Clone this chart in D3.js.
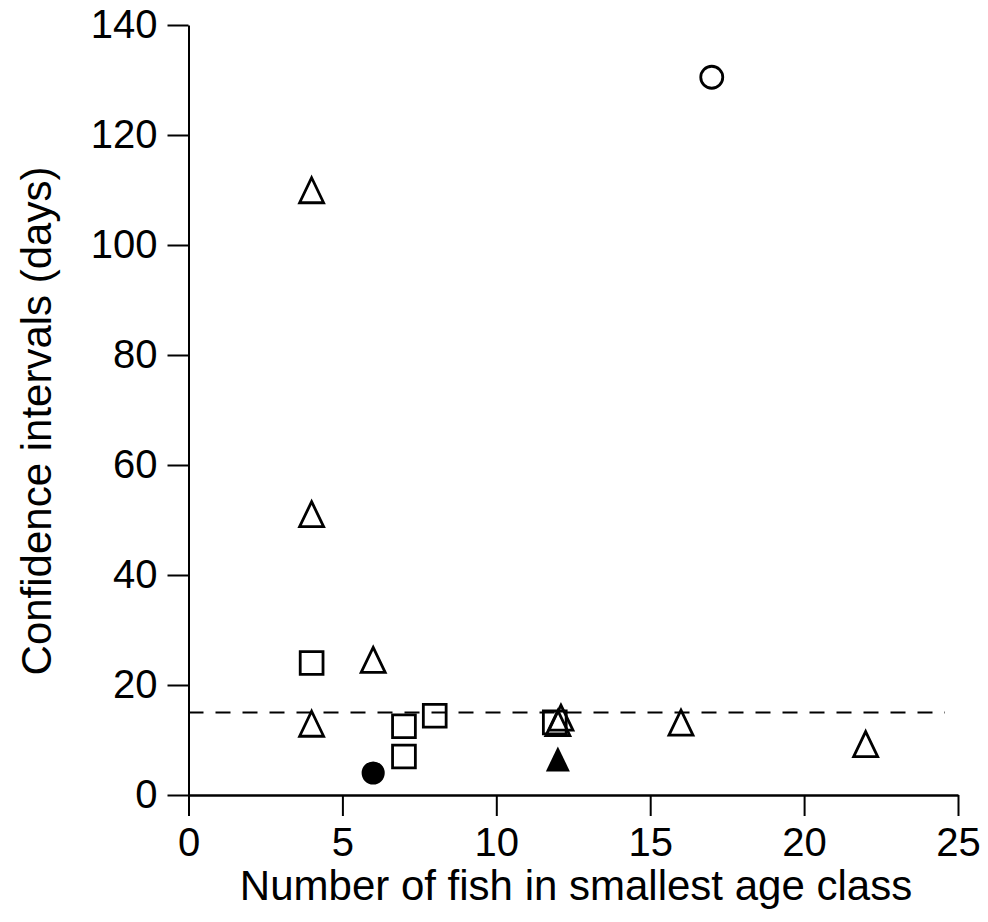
<!DOCTYPE html>
<html>
<head>
<meta charset="utf-8">
<script src="https://cdn.jsdelivr.net/npm/d3@7"></script>
<style>
  body { margin: 0; background: #fff; }
  text { font-family: "Liberation Sans", Arial, sans-serif; fill: #000; }
</style>
</head>
<body>
<div id="scatter"></div>
<script>
// values
var openTriangles = [
  {x: 4, y: 109.2}, {x: 4, y: 50.3}, {x: 4, y: 12.2}, {x: 6, y: 23.8},
  {x: 12.1, y: 13.3}, {x: 12, y: 12.3}, {x: 16, y: 12.4}, {x: 22, y: 8.5}
];
var openSquares = [
  {x: 4, y: 24}, {x: 7, y: 12.5}, {x: 7, y: 7}, {x: 8, y: 14.4}, {x: 11.9, y: 13.2}
];
var openCircles = [{x: 17, y: 130.5}];
var filledCircles = [{x: 6, y: 4}];
var filledTriangles = [{x: 12, y: 5.8}];
var refLine = 15;
var xTicks = [0, 5, 10, 15, 20, 25];
var yTicks = [0, 20, 40, 60, 80, 100, 120, 140];
var xTitle = "Number of fish in smallest age class";
var yTitle = "Confidence intervals (days)";

var svgWidth = 988, svgHeight = 922;
var margin = {top: 25, right: 30, bottom: 127, left: 188.5};

var svg = d3.select("#scatter").append("svg")
  .attr("width", svgWidth)
  .attr("height", svgHeight);

var scaleX = d3.scaleLinear().domain([0, 25]).range([margin.left, 958]);
var scaleY = d3.scaleLinear().domain([0, 140]).range([795, margin.top]);

// x axis
var xAxis = d3.axisBottom(scaleX).tickValues(xTicks).tickSize(21).tickPadding(10).tickSizeOuter(0);
var gx = svg.append("g")
  .attr("transform", "translate(0,795)")
  .call(xAxis);
gx.select(".domain").attr("stroke-width", 2.5);
gx.selectAll(".tick line").attr("stroke-width", 2);
gx.selectAll(".tick text").attr("font-size", 40).attr("dy", "0.76em");

// y axis
var yAxis = d3.axisLeft(scaleY).tickValues(yTicks).tickSize(21).tickPadding(10).tickSizeOuter(0);
var gy = svg.append("g")
  .attr("transform", "translate(" + margin.left + ",0)")
  .call(yAxis);
gy.select(".domain").attr("stroke-width", 2);
gy.selectAll(".tick line").attr("stroke-width", 2);
gy.selectAll(".tick text").attr("font-size", 40);

// titles
svg.append("text")
  .attr("x", 576)
  .attr("y", 900)
  .attr("text-anchor", "middle")
  .attr("font-size", 42)
  .text(xTitle);

svg.append("text")
  .attr("transform", "translate(51," + 421 + ") rotate(-90)")
  .attr("text-anchor", "middle")
  .attr("font-size", 42)
  .text(yTitle);

// dashed reference line
svg.append("line")
  .attr("x1", margin.left)
  .attr("x2", 945)
  .attr("y1", scaleY(refLine))
  .attr("y2", scaleY(refLine))
  .attr("stroke", "#000")
  .attr("stroke-width", 2)
  .attr("stroke-dasharray", "15,12");

// a triangle a bit taller than equilateral, centred on its centroid
var tri = {
  draw: function(context, size) {
    var w = 24, h = 25;
    context.moveTo(0, -2 * h / 3);
    context.lineTo(w / 2, h / 3);
    context.lineTo(-w / 2, h / 3);
    context.closePath();
  }
};

function drawPoints(data, type, size, filled) {
  svg.append("g").selectAll("path")
    .data(data)
    .enter()
    .append("path")
    .attr("d", d3.symbol().type(type).size(size))
    .attr("transform", d => "translate(" + scaleX(d.x) + "," + scaleY(d.y) + ")")
    .attr("fill", filled ? "#000" : "none")
    .attr("stroke", "#000")
    .attr("stroke-width", filled ? 0 : 2.8);
}

drawPoints(openSquares, d3.symbolSquare, 520, false);
drawPoints(openTriangles, tri, 1, false);
drawPoints(openCircles, d3.symbolCircle, 380, false);
drawPoints(filledCircles, d3.symbolCircle, 420, true);
drawPoints(filledTriangles, tri, 1, true);
</script>
</body>
</html>
